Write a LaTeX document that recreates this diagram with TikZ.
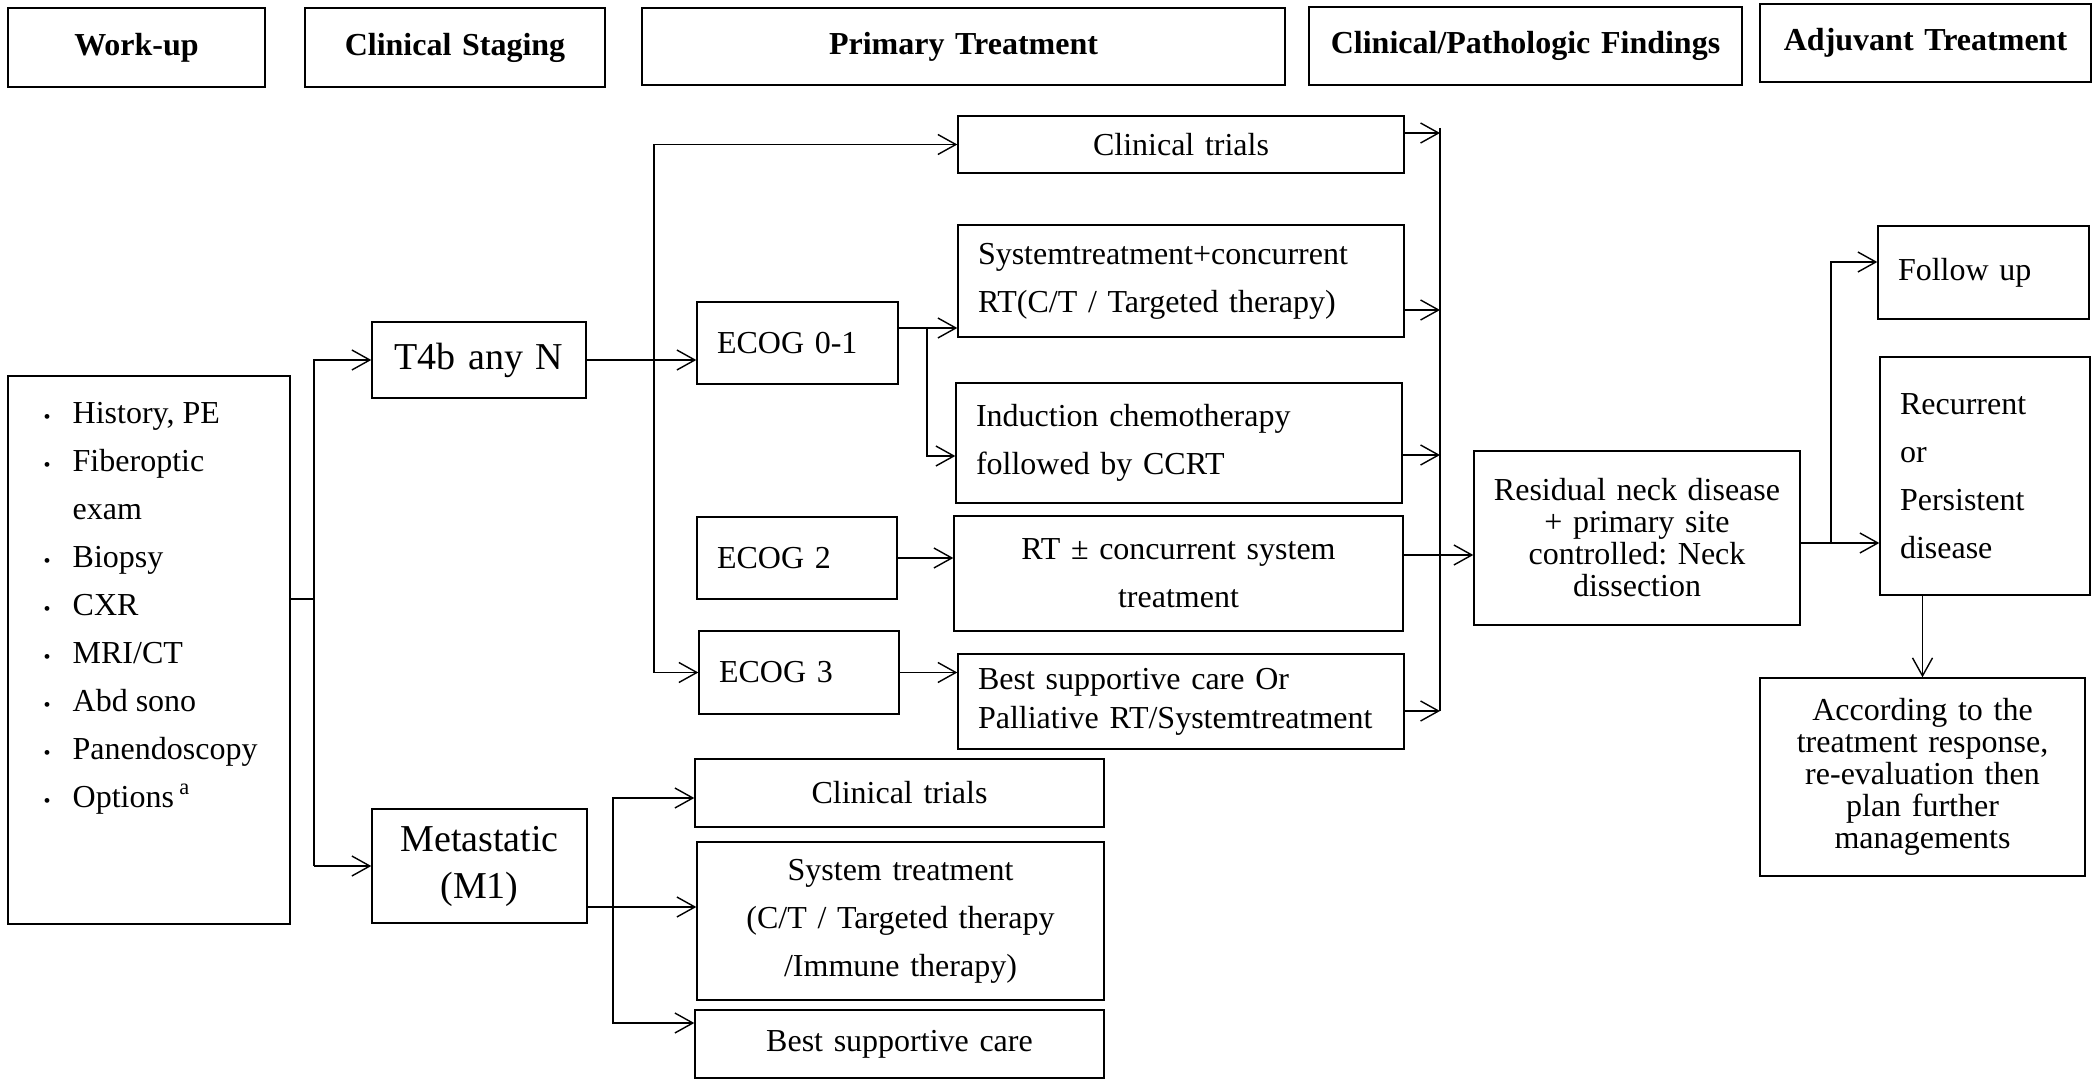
\documentclass[tikz,border=0pt]{standalone}
\usepackage{fontspec}
\setmainfont{Liberation Serif}
\frenchspacing
\usetikzlibrary{positioning}
\usetikzlibrary{arrows.meta,calc}

\tikzset{
  box/.style={draw, line width=0.7pt, inner sep=0pt, align=left,
    font={\fontsize{16}{24}\selectfont}},
  headbox/.style={box, line width=0.9pt, align=center,
    font={\fontsize{16}{24}\selectfont\bfseries}},
  mid/.style={align=center},
  tight/.style={font={\fontsize{16}{16}\selectfont}, text width=160pt},
  stage/.style={align=center, font={\fontsize{19}{23.5}\selectfont}},
  link/.style={line width=0.7pt},
  arr/.style={link, -{Straight Barb[length=9pt,width=10pt]}}
}

% [options]{name}{x1}{y1}{x2}{y2} {text};
\newcommand{\chartbox}[6][]{%
  \node[box, minimum width={(#5-#3)*0.5pt}, minimum height={(#6-#4)*0.5pt},
    text width={(#5-#3-40)*0.5pt}, #1] (#2) at ({(#3+#5)/2},{(#4+#6)/2})}

\begin{document}
\begin{tikzpicture}[x=0.5pt,y=-0.5pt]
\useasboundingbox (0,0) rectangle (2095,1080);

% column heads
\chartbox[headbox]{hWork}{8}{8}{265}{87} {Work-up};
\chartbox[headbox]{hStage}{305}{8}{605}{87} {Clinical Staging};
\chartbox[headbox]{hPrimary}{642}{8}{1285}{85} {Primary Treatment};
\chartbox[headbox]{hFind}{1309}{7}{1742}{85} {Clinical/Pathologic Findings};
\chartbox[headbox]{hAdj}{1760}{4}{2091}{82} {Adjuvant Treatment};

% work-up and staging
\chartbox{workup}{8}{376}{290}{924} {};
\node[anchor=north west, inner sep=0pt, font={\fontsize{16}{24}\selectfont}] (worklist)
  at ([xshift=18pt,yshift=-7pt]workup.north west) {%
  \begin{tabular}{@{}p{14.5pt}@{}l@{}}
  {\fontsize{10}{10}\selectfont\textbullet} & History, PE\\
  {\fontsize{10}{10}\selectfont\textbullet} & Fiberoptic\\
   & exam\\
  {\fontsize{10}{10}\selectfont\textbullet} & Biopsy\\
  {\fontsize{10}{10}\selectfont\textbullet} & CXR\\
  {\fontsize{10}{10}\selectfont\textbullet} & MRI/CT\\
  {\fontsize{10}{10}\selectfont\textbullet} & Abd sono\\
  {\fontsize{10}{10}\selectfont\textbullet} & Panendoscopy\\
  {\fontsize{10}{10}\selectfont\textbullet} & Options\,\textsuperscript{a}
  \end{tabular}};
\chartbox[stage]{t4b}{372}{322}{586}{398} {T4b any N};
\chartbox[stage]{meta}{372}{809}{587}{923} {Metastatic\\(M1)};

% primary treatment
\chartbox{ecog01}{697}{302}{898}{384} {ECOG 0-1};
\chartbox{ecog2}{697}{517}{897}{599} {ECOG 2};
\chartbox{ecog3}{699}{631}{899}{714} {ECOG 3};
\chartbox[mid]{trialsA}{958}{116}{1404}{173} {Clinical trials};
\chartbox{concur}{958}{225}{1404}{337} {Systemtreatment+concurrent\\RT(C/T / Targeted therapy)};
\chartbox{induct}{956}{383}{1402}{503} {Induction chemotherapy\\followed by CCRT};
\chartbox[mid]{rtsys}{954}{516}{1403}{631} {RT ± concurrent system\\treatment};
\chartbox[font={\fontsize{16}{19.5}\selectfont}]{bsc}{958}{654}{1404}{749}
  {Best supportive care Or\\Palliative RT/Systemtreatment};
\chartbox[mid]{trialsB}{695}{759}{1104}{827} {Clinical trials};
\chartbox[mid]{systx}{697}{842}{1104}{1000} {System treatment\\(C/T / Targeted therapy\\/Immune therapy)};
\chartbox[mid]{bscB}{695}{1010}{1104}{1078} {Best supportive care};

% findings and adjuvant
\chartbox[mid,tight]{resid}{1474}{451}{1800}{625} {Residual neck disease\\+ primary site\\controlled: Neck\\dissection};
\chartbox{follow}{1878}{226}{2089}{319} {Follow up\par\vspace{11pt}};
\chartbox{recur}{1880}{357}{2090}{595} {Recurrent\\or\\Persistent\\disease\par\vspace{11pt}};
\chartbox[mid,tight]{accord}{1760}{678}{2085}{876} {According to the\\treatment response,\\re-evaluation then\\plan further\\managements};

% work-up to staging
\coordinate (j1) at (314,599);
\draw[link] (workup.east |- j1) -- (j1);
\draw[arr] (j1 |- meta) -- (j1 |- t4b) -- (t4b);
\draw[arr] (j1 |- meta) -- (meta);

% T4b branches
\draw[arr] (t4b) -- (t4b -| ecog01.west);
\coordinate (j2) at (654,360);
\draw[arr] (j2) |- (trialsA);
\draw[arr] (j2) |- (ecog3);

\coordinate (j3) at (927,328);
\draw[link] (ecog01.east |- j3) -- (j3);
\draw[arr] (j3) -- (j3 -| concur.west);
\draw[arr] (j3) |- (induct.west |- 0,456);
\draw[arr] (ecog2) -- (ecog2 -| rtsys.west);
\draw[arr] (ecog3) -- (ecog3 -| bsc.west);

% M1 branches
\coordinate (j5) at (613,907);
\draw[link] (meta.east |- j5) -- (j5);
\draw[arr] (j5) |- (trialsB.west |- 0,798);
\draw[arr] (j5) -- (j5 -| systx.west);
\draw[arr] (j5) |- (bscB.west |- 0,1023);

% merge into findings
\coordinate (mtop) at (1440,128);
\coordinate (mbot) at (1440,711);
\draw[link] (mtop) -- (mbot);
\foreach \n/\y in {trialsA/133, concur/310, induct/455, bsc/711}
  \draw[arr] (\n.east |- 0,\y) -- (mtop |- 0,\y);
\draw[arr] (rtsys.east |- 0,555) -- (resid.west |- 0,555);

% findings to adjuvant
\coordinate (j4) at (1831,543);
\draw[link] (resid.east |- j4) -- (j4);
\draw[arr] (j4) -- (j4 -| recur.west);
\draw[arr] (j4) |- (follow.west |- 0,262);
\draw[arr] (accord.north |- recur.south) -- (accord.north);
\end{tikzpicture}
\end{document}
